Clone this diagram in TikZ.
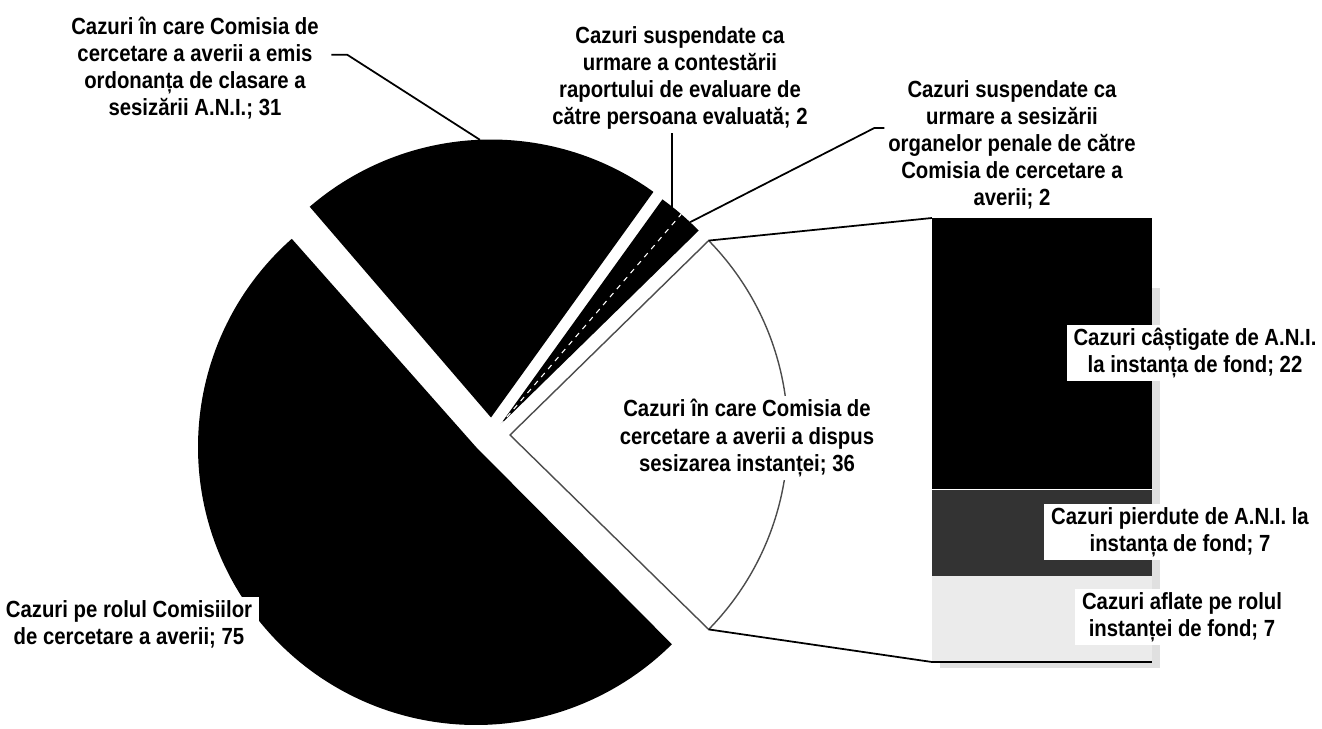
\documentclass[tikz,border=0pt]{standalone}
\usepackage{fontspec}
\setmainfont{Liberation Sans}[FakeStretch=0.87]

\tikzset{
  lbl/.style={font=\bfseries\fontsize{13.3}{15.4}\selectfont, align=center, inner sep=2pt},
  lblbox/.style={lbl, fill=white, inner xsep=4pt},
  leader/.style={draw=black, line width=1pt},
  slice/.style={draw=white, line width=0.6pt}
}
\def\pr{278}

\begin{document}
\begin{tikzpicture}[x=0.02cm, y=0.02cm]
        \useasboundingbox (0,0) rectangle (1322,728);

        % pie
        \fill[black] (476,281) -- ++(131.5:\pr) arc[start angle=131.5, end angle=314.8, radius=\pr] -- cycle;
        \fill[black] (491,310.5) -- ++(54.25:\pr) arc[start angle=54.25, end angle=130.7, radius=\pr] -- cycle;
        \fill[black] (500,303) -- ++(44.38:\pr) arc[start angle=44.38, end angle=54.25, radius=\pr] -- cycle;
        \draw[slice, dashed] (500,303) -- ++(49.32:\pr);
        \filldraw[fill=white, draw=black!70, line width=0.8pt] (510,293) -- ++(-44.38:\pr) arc[start angle=-44.38, end angle=44.38, radius=\pr] -- cycle;

        \path (491,310.5) ++(92.3:\pr) coordinate (p31);
        \path (500,303) ++(51.75:\pr) coordinate (pc);
        \path (500,303) ++(46.85:\pr) coordinate (pp);
        \path (510,293) ++(44.38:\pr) coordinate (s36top);
        \path (510,293) ++(-44.38:\pr) coordinate (s36bot);

        % bar
        \coordinate (bartop) at (932,510);
        \coordinate (barbot) at (932,66);
        \fill[black!12] (940,60) rectangle (1160,440);
        \fill[black!8] (932,66) rectangle (1152,152.3);
        \fill[black!80] (932,152.3) rectangle (1152,238.7);
        \fill[black] (932,238.7) rectangle (1152,510);
        \draw[white, line width=0.8pt] (932,238.7) -- (1152,238.7);
        \draw[black, line width=0.8pt] (932,66) -- (1152,66);

        \draw[leader] (s36top) -- (bartop);
        \draw[leader] (s36bot) -- (barbot);

        % labels
        \node[lbl] (l31) at (195,660) {Cazuri în care Comisia de\\cercetare a averii a emis\\ordonanța de clasare a\\sesizării A.N.I.; 31};
        \node[lbl] (lcont) at (680,650) {Cazuri suspendate ca\\urmare a contestării\\raportului de evaluare de\\către persoana evaluată; 2};
        \node[lbl] (lpen) at (1012,583) {Cazuri suspendate ca\\urmare a sesizării\\organelor penale de către\\Comisia de cercetare a\\averii; 2};
        \node[lblbox] (l36) at (747,290) {Cazuri în care Comisia de\\cercetare a averii a dispus\\sesizarea instanței; 36};
        \node[lblbox] (l75) at (129,104) {Cazuri pe rolul Comisiilor\\de cercetare a averii; 75};
        \node[lblbox] (lwon) at (1195,375) {Cazuri câștigate de A.N.I.\\la instanța de fond; 22};
        \node[lblbox] (llost) at (1180,196) {Cazuri pierdute de A.N.I. la\\instanța de fond; 7};
        \node[lblbox] (lpend) at (1182,111) {Cazuri aflate pe rolul\\instanței de fond; 7};

        \draw[leader] ([xshift=5pt,yshift=7.5pt]l31.east) -- ++(16,0) -- (p31);
        \draw[leader] (pc) -- (pc |- lcont.south);
        \draw[leader] ([yshift=9.7pt]lpen.west) -- ++(-10,0) -- (pp);

      \end{tikzpicture}
\end{document}
